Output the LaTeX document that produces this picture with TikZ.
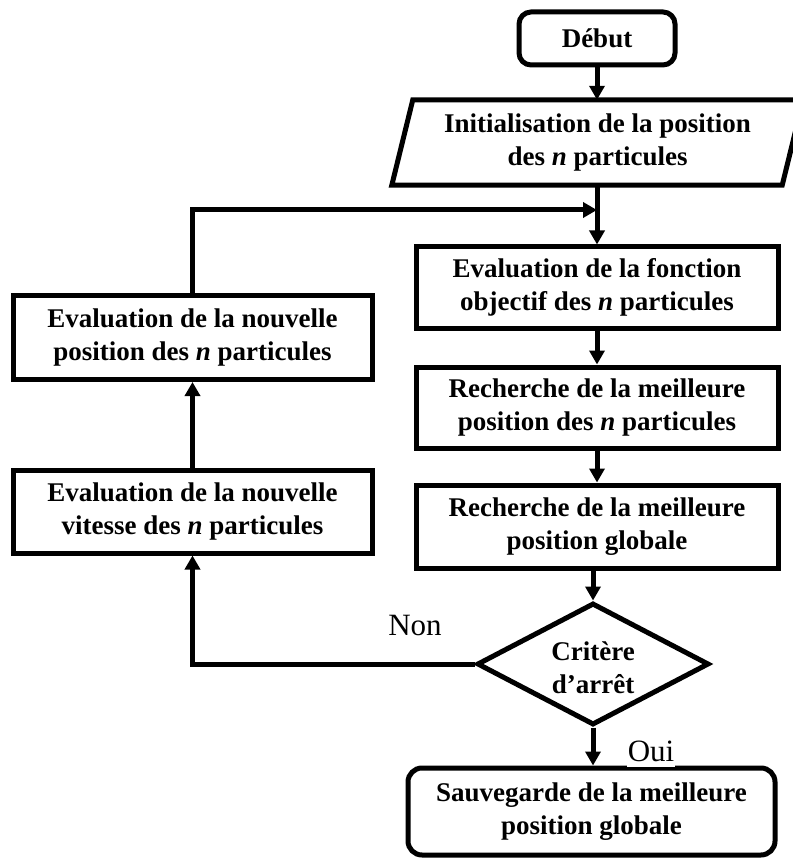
\documentclass[tikz,border=0pt]{standalone}
\usepackage{fontspec}
\setmainfont{Liberation Serif}
\usetikzlibrary{arrows.meta,shapes.geometric}

\begin{document}
\begin{tikzpicture}[x=1pt,y=-1pt,
  every node/.style={font=\fontsize{27}{33}\selectfont\bfseries, align=center, inner sep=0pt},
  flowarrow/.style={line width=5pt, -{Triangle[length=14pt,width=15pt]}},
  procbox/.style={draw, line width=5pt, rectangle, minimum width=362pt, minimum height=81pt},
  sidebox/.style={draw, line width=5pt, rectangle, minimum width=359pt, minimum height=84pt},
  termbox/.style={draw, line width=5pt, rectangle, rounded corners=12pt},
  decision/.style={draw, line width=5pt, diamond, minimum width=232pt, minimum height=122pt, inner sep=0pt},
  answer/.style={font=\fontsize{31}{34}\selectfont\mdseries}
]
\useasboundingbox (0,0) rectangle (792,858);

% start terminal
\node[termbox, minimum width=156pt, minimum height=53pt] (debut) at (597,38.5) {Début};

% input (parallelogram drawn around an invisible frame node)
\node[minimum width=390pt, minimum height=85pt] (init) at (597.5,142.5)
  {Initialisation de la position\\des \textit{n} particules};
\draw[line width=5pt]
  ([xshift=10.5pt]init.north west) -- ([xshift=10.5pt]init.north east) --
  ([xshift=-10.5pt]init.south east) -- ([xshift=-10.5pt]init.south west) -- cycle;

% main column
\node[procbox] (evalobj) at (597,287.5) {Evaluation de la fonction\\objectif des \textit{n} particules};
\node[procbox] (bestpart) at (597,407.5) {Recherche de la meilleure\\position des \textit{n} particules};
\node[procbox, minimum height=83pt] (bestglob) at (597,526.5) {Recherche de la meilleure\\position globale};

% stopping test
\node[decision] (crit) at (593,664) {};
\node (crittext) at (593,668) {Critère\\d’arrêt};

% final terminal
\node[termbox, minimum width=367pt, minimum height=87pt, rounded corners=14pt] (save) at (591.5,811.5)
  {Sauvegarde de la meilleure\\position globale};

% update branch
\node[sidebox] (newpos) at (192.5,337.5) {Evaluation de la nouvelle\\position des \textit{n} particules};
\node[sidebox, minimum height=83pt] (newvel) at (192.5,511.5) {Evaluation de la nouvelle\\vitesse des \textit{n} particules};

\coordinate (merge) at (597,210);

% connectors
\draw[flowarrow] (debut.south) -- (debut.south |- init.north);
\draw[flowarrow] (init.south -| evalobj.north) -- (evalobj.north);
\draw[flowarrow] (evalobj) -- (bestpart);
\draw[flowarrow] (bestpart) -- (bestglob);
\draw[flowarrow] (bestglob.south -| crit.north) -- (crit.north);
\draw[flowarrow] (crit.south) -- (save.north -| crit.south);
\draw[flowarrow] (crit.west) -| (newvel.south);
\draw[flowarrow] (newvel) -- (newpos);
\draw[flowarrow] (newpos.north) |- (merge);

% branch labels
\node[answer] (non) at (415,625) {Non};
\node[answer, anchor=south, fill=white, text depth=5pt, inner xsep=1pt] (oui) at (651,767) {Oui};
\end{tikzpicture}
\end{document}
